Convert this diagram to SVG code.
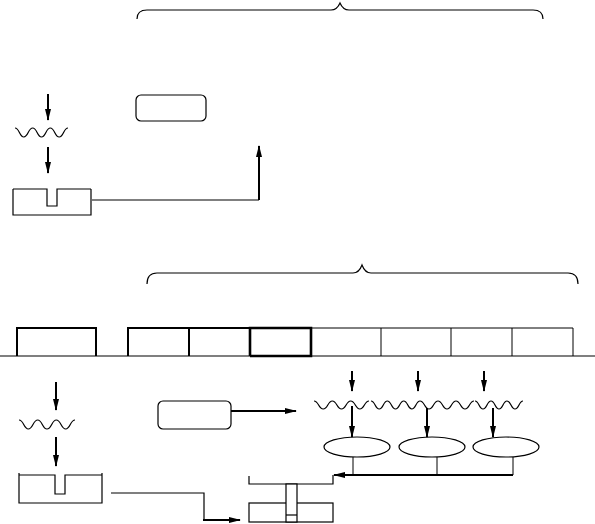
<svg xmlns="http://www.w3.org/2000/svg" width="595" height="524" viewBox="0 0 595 524">
<style>
.s{fill:none;stroke:#000;stroke-width:1.2}
.t{fill:none;stroke:#000;stroke-width:1}
.b{fill:none;stroke:#000;stroke-width:2}
.bb{fill:none;stroke:#000;stroke-width:2.6}
.w{fill:#fff;stroke:#000;stroke-width:1.2}
.a{fill:none;stroke:#000;stroke-width:2;marker-end:url(#ah)}
</style>
<defs>
<marker id="ah" viewBox="0 0 12 6" refX="11" refY="3" markerWidth="12" markerHeight="6" markerUnits="userSpaceOnUse" orient="auto">
<path d="M0,0 L12,3 L0,6 z" fill="#000"/>
</marker>
</defs>
<rect width="595" height="524" fill="#fff"/>

<g id="brace-top">
<path class="s" d="M137,19 Q137,10 147,10 L331,10 Q337,10 340,3 Q343,10 349,10 L533,10 Q543,10 543,19"/>
</g>
<g id="brace-bottom">
<path class="s" d="M147,284 Q147,273 157,273 L353,273 Q359,273 362,265 Q365,273 371,273 L568,273 Q578,273 578,284"/>
</g>

<g id="wave-top">
<path class="s" d="M15,128 C19.4,128 19.4,137 23.8,137 C28.2,137 28.2,128 32.7,128 C37.1,128 37.1,137 41.5,137 C45.9,137 45.9,128 50.3,128 C54.7,128 54.7,137 59.2,137 C63.6,137 63.6,128 68,128"/>
</g>
<g id="box-top">
<path class="s" d="M13,189 L47,189 L47,206 L57,206 L57,189 L91,189 M13,189 L13,215 L91,215 L91,189"/>
</g>
<g id="rrect-top">
<rect class="s" x="136" y="95" width="70" height="26" rx="5"/>
</g>

<g id="track">
<line class="s" x1="0" y1="356" x2="595" y2="356" stroke-width="1.5"/>
<path class="b" d="M17,356 L17,328 L96,328 L96,356"/>
<path class="b" d="M128,356 L128,328 L250,328 M189,328 L189,356"/>
<path class="bb" d="M250,356 L250,328 L311,328 L311,356 L250,356"/>
<path class="t" d="M311,328 L573,328 M381,328 L381,356 M451,328 L451,356 M512,328 L512,356 M573,328 L573,356"/>
</g>

<g id="wave-bottom-left">
<path class="s" d="M19,420 C23.7,420 23.7,429 28.3,429 C33,429 33,420 37.7,420 C42.3,420 42.3,429 47,429 C51.7,429 51.7,420 56.3,420 C61,420 61,429 65.7,429 C70.3,429 70.3,420 75,420"/>
</g>
<g id="box-bottom-left">
<path class="s" d="M19,475 L55,475 L55,494 L65,494 L65,475 L102,475 M19,473 L19,503 L102,503 L102,473"/>
</g>
<g id="rrect-bottom">
<rect class="s" x="158" y="401" width="73" height="28" rx="5"/>
</g>

<g id="waves-right">
<path class="s" d="M314,401 C318.6,401 318.6,409 323.2,409 C327.8,409 327.8,401 332.3,401 C336.9,401 336.9,409 341.5,409 C346.1,409 346.1,401 350.7,401 C355.3,401 355.3,409 359.8,409 C364.4,409 364.4,401 369,401"/>
<path class="s" d="M371,401 C375.1,401 375.1,409 379.2,409 C383.3,409 383.3,401 387.3,401 C391.4,401 391.4,409 395.5,409 C399.6,409 399.6,401 403.7,401 C407.8,401 407.8,409 411.8,409 C415.9,409 415.9,401 420,401"/>
<path class="s" d="M420,401 C424.5,401 424.5,409 429,409 C433.5,409 433.5,401 438,401 C442.5,401 442.5,409 447,409 C451.5,409 451.5,401 456,401 C460.5,401 460.5,409 465,409 C469.5,409 469.5,401 474,401"/>
<path class="s" d="M475,401 C479,401 479,409 483,409 C487,409 487,401 491,401 C495,401 495,409 499,409 C503,409 503,401 507,401 C511,401 511,409 515,409 C519,409 519,401 523,401"/>
</g>

<g id="ellipse-1"><ellipse class="s" cx="357" cy="447" rx="33" ry="10"/></g>
<g id="ellipse-2"><ellipse class="s" cx="432" cy="447" rx="33" ry="10"/></g>
<g id="ellipse-3"><ellipse class="s" cx="506" cy="447" rx="33" ry="10"/></g>

<g id="component">
<path class="s" d="M249,476 L249,484 L333,484 L333,475"/>
<rect class="s" x="249" y="503" width="84" height="19"/>
<rect class="w" x="286" y="484" width="11" height="38"/>
<line class="s" x1="286" y1="515" x2="297" y2="515"/>
</g>

<g id="connectors">
<line class="a" x1="48" y1="94" x2="48" y2="120"/>
<line class="a" x1="48" y1="147" x2="48" y2="173"/>
<path class="s" d="M92,200 L259,200"/>
<line class="a" x1="259" y1="200" x2="259" y2="146"/>

<line class="a" x1="56" y1="382" x2="56" y2="410"/>
<line class="a" x1="56" y1="437" x2="56" y2="466"/>
<path class="s" d="M111,493 L204,493 L204,520"/>
<line class="a" x1="203" y1="520" x2="240" y2="520"/>
<line class="a" x1="231" y1="411" x2="296" y2="411"/>

<line class="a" x1="352" y1="371" x2="352" y2="391"/>
<line class="a" x1="418" y1="371" x2="418" y2="391"/>
<line class="a" x1="484" y1="371" x2="484" y2="391"/>
<line class="a" x1="352" y1="406" x2="352" y2="437"/>
<line class="a" x1="427" y1="408" x2="427" y2="437"/>
<line class="a" x1="493" y1="408" x2="493" y2="437"/>

<path class="t" d="M353,457 L353,475 M437,457 L437,475 M513,457 L513,475"/>
<line class="a" x1="513" y1="475" x2="334" y2="475"/>
</g>
</svg>
